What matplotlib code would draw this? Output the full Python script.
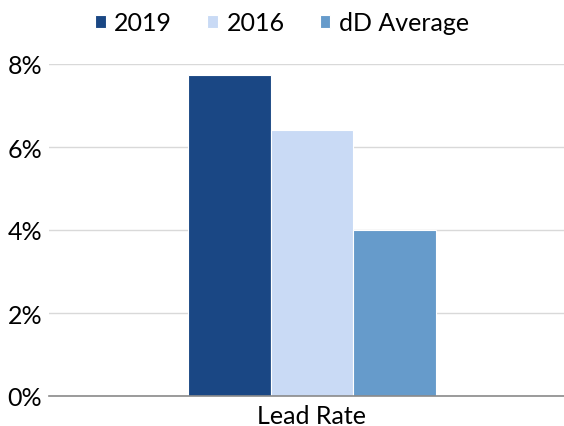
import matplotlib.pyplot as plt

plt.rcParams['font.family'] = ['Lato', 'DejaVu Sans']

category = "Lead Rate"
series = ["2019", "2016", "dD Average"]
values = [7.73, 6.4, 4.0]
colors = ["#1a4784", "#c9daf5", "#669bcb"]
yticks = [0, 2, 4, 6, 8]
ytick_labels = ["0%", "2%", "4%", "6%", "8%"]

fig = plt.figure(figsize=(5.64, 4.27), dpi=100)
ax = fig.add_axes([49 / 564, 30 / 427, 515 / 564, 332 / 427])

offsets = [-1, 0, 1]
for off, name, val, col in zip(offsets, series, values, colors):
    ax.bar(off, val, width=1.0, color=col, edgecolor="white", linewidth=0.8,
           label=name, zorder=3)

ax.set_xlim(-3.18, 3.05)
ax.set_ylim(0, 8)
ax.set_yticks(yticks)
ax.set_yticklabels(ytick_labels, fontsize=18)
ax.set_xticks([0])
ax.set_xticklabels([category], fontsize=18)
ax.tick_params(axis="both", length=0)
ax.tick_params(axis="y", pad=5)
ax.tick_params(axis="x", pad=6)

ax.grid(axis="y", color="#d9d9d9", linewidth=1, zorder=0)
for s in ["top", "right", "left"]:
    ax.spines[s].set_visible(False)
ax.spines["bottom"].set_color("#8a8a8a")
ax.spines["bottom"].set_linewidth(1.2)
ax.spines["bottom"].set_zorder(4)

fig.legend(loc="center", bbox_to_anchor=(0.5, 0.945), ncol=3, frameon=False,
           fontsize=18, handlelength=0.42, handleheight=0.42, handletextpad=0.35,
           columnspacing=1.4)

fig.savefig("out.png", dpi=100)
